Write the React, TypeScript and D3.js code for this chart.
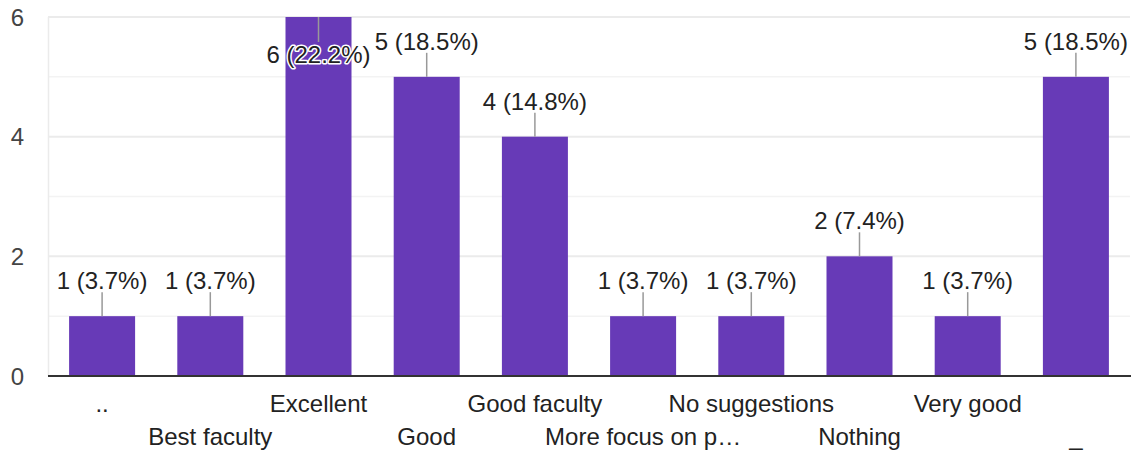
import React, {useEffect, useRef} from 'react';
import * as d3 from 'd3';

// answers and their counts
const categories = ['..', 'Best faculty', 'Excellent', 'Good', 'Good faculty', 'More focus on p…', 'No suggestions', 'Nothing', 'Very good', '_'];
const counts = [1, 1, 6, 5, 4, 1, 1, 2, 1, 5];
const yTicks = [0, 2, 4, 6];
const minorTicks = [1, 3, 5];

const W = 1133;
const H = 451;
const FONT = '"Liberation Sans", Arial, sans-serif';

export default function App() {
    const ref = useRef<SVGSVGElement>(null);

    useEffect(() => {
        const svg = d3.select(ref.current);
        svg.selectAll('*').remove();

        const total = d3.sum(counts);
        const x = d3.scaleBand<string>()
            .domain(categories)
            .range([48, 1130])
            .paddingInner(0.39)
            .paddingOuter(0.195);
        const y = d3.scaleLinear().domain([0, 6]).range([376, 17]);

        // grid
        svg.append('g').selectAll('line.minor')
            .data(minorTicks)
            .enter()
            .append('line')
            .attr('x1', 48).attr('x2', 1130)
            .attr('y1', d => y(d)).attr('y2', d => y(d))
            .attr('stroke', '#f3f3f3')
            .attr('stroke-width', 1.5);
        svg.append('g').selectAll('line.major')
            .data(yTicks.slice(1))
            .enter()
            .append('line')
            .attr('x1', 48).attr('x2', 1130)
            .attr('y1', d => y(d)).attr('y2', d => y(d))
            .attr('stroke', '#ebebeb')
            .attr('stroke-width', 2);
        svg.append('line')
            .attr('x1', 48.5).attr('x2', 48.5)
            .attr('y1', y(6)).attr('y2', y(0))
            .attr('stroke', '#ebebeb')
            .attr('stroke-width', 1.5);

        // y labels
        svg.append('g').selectAll('text')
            .data(yTicks)
            .enter()
            .append('text')
            .attr('x', 24)
            .attr('y', d => y(d))
            .attr('dy', '0.36em')
            .attr('text-anchor', 'end')
            .attr('fill', '#444')
            .style('font-family', FONT)
            .style('font-size', '24px')
            .text(d => d);

        // bars
        svg.append('g').selectAll('rect')
            .data(counts)
            .enter()
            .append('rect')
            .attr('x', (d, i) => x(categories[i])!)
            .attr('y', d => y(d))
            .attr('width', x.bandwidth())
            .attr('height', d => y(0) - y(d))
            .attr('fill', '#673ab7');

        // baseline
        svg.append('line')
            .attr('x1', 48).attr('x2', 1131)
            .attr('y1', y(0)).attr('y2', y(0))
            .attr('stroke', '#333')
            .attr('stroke-width', 2);

        // annotations
        const ann = svg.append('g');
        counts.forEach((d, i) => {
            const cx = x(categories[i])! + x.bandwidth() / 2;
            const label = `${d} (${(d / total * 100).toFixed(1)}%)`;
            const inside = d === 6;
            const top = y(d);
            const stemEnd = inside ? top + 25 : top - 24;
            ann.append('line')
                .attr('x1', cx).attr('x2', cx)
                .attr('y1', top).attr('y2', stemEnd)
                .attr('stroke', '#999')
                .attr('stroke-width', 1.5);
            const t = ann.append('text')
                .attr('x', cx)
                .attr('y', inside ? stemEnd + 21 : stemEnd - 3)
                .attr('text-anchor', 'middle')
                .attr('fill', '#222')
                .style('font-family', FONT)
                .style('font-size', '24px')
                .text(label);
            if (inside) {
                t.attr('stroke', '#fff').attr('stroke-width', 3).attr('paint-order', 'stroke').attr('stroke-linejoin', 'round');
            }
        });

        // x labels, staggered in two rows
        svg.append('g').selectAll('text')
            .data(categories)
            .enter()
            .append('text')
            .attr('x', d => x(d)! + x.bandwidth() / 2)
            .attr('y', (d, i) => i % 2 === 0 ? 412 : 445)
            .attr('text-anchor', 'middle')
            .attr('fill', '#222')
            .style('font-family', FONT)
            .style('font-size', '24px')
            .text(d => d);
    }, []);

    return (
        <svg ref={ref} width={W} height={H}
             style={{position: 'absolute', left: 0, top: 0, background: '#fff'}} />
    );
}
